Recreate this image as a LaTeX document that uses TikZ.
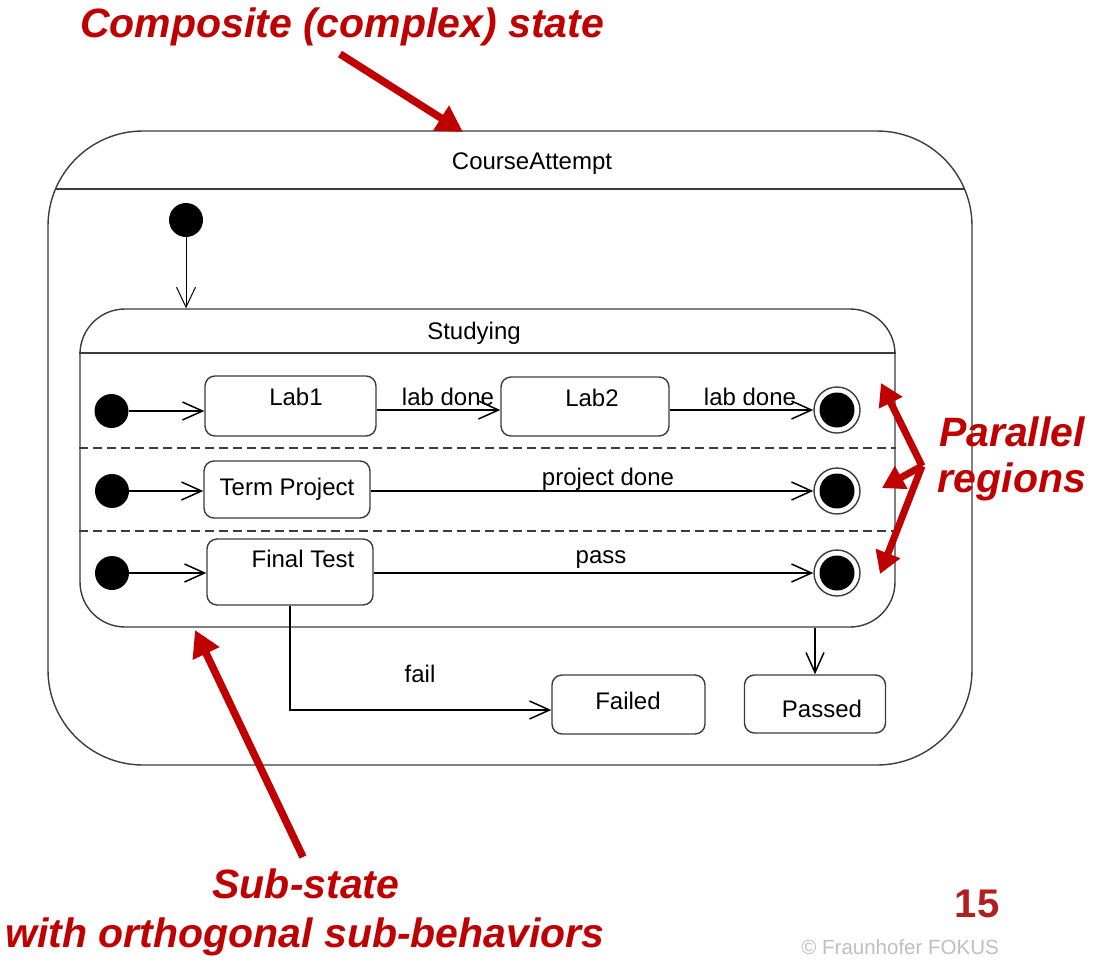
\documentclass[tikz,border=0pt]{standalone}
\usepackage{fontspec}
\setmainfont{Liberation Sans}
\newfontfamily\dgfont{Liberation Sans}
\usetikzlibrary{arrows.meta}
\definecolor{myred}{RGB}{192,0,0}
\definecolor{numred}{RGB}{176,32,32}
\definecolor{cpgray}{RGB}{190,190,190}
\definecolor{lngray}{RGB}{60,60,60}
\newcommand{\dgfnt}{\dgfont\fontsize{24}{28}\selectfont}
\newcommand{\annfnt}{\dgfont\bfseries\itshape\fontsize{41}{48}\selectfont}
\tikzset{
  stbox/.style={draw=lngray, line width=1.4pt, rounded corners=10pt, inner sep=0pt},
  txt/.style={font=\dgfnt, anchor=base, inner sep=0pt},
  tr/.style={line width=1.5pt, -{Straight Barb[length=20pt,width=18pt]}},
  trthin/.style={line width=1pt, -{Straight Barb[length=20pt,width=19pt]}},
  inidot/.style={circle, fill=black, minimum size=34pt, inner sep=0pt},
  findot/.style={circle, draw=lngray, line width=1.4pt, fill=white, minimum size=46pt, inner sep=0pt,
    path picture={\fill[black] (path picture bounding box.center) circle (17.5pt);}},
  annarrow/.style={draw=myred, line width=7.5pt, -{Triangle[length=26pt,width=28pt]}},
  annarrowsm/.style={draw=myred, line width=7pt, -{Triangle[length=22pt,width=25pt]}},
  anntxt/.style={font=\annfnt, text=myred, anchor=base, inner sep=0pt},
  regline/.style={draw=lngray, line width=1.6pt, dash pattern=on 9pt off 5pt}
}
\begin{document}
\begin{tikzpicture}[x=1pt,y=-1pt]
\useasboundingbox (0,0) rectangle (1093,975);

% outer composite state
\node[stbox, rounded corners=95pt, minimum width=924pt, minimum height=634pt] (ca) at (510,448) {};
\draw[draw=lngray, line width=1.4pt] (56,189) -- (964,189);
\node[txt] (caname) at (532,169) {CourseAttempt};

% inner composite state
\node[stbox, rounded corners=45pt, minimum width=815pt, minimum height=318pt] (st) at (487.5,468) {};
\draw[draw=lngray, line width=1.4pt] (st.west |- 0,353) -- (st.east |- 0,353);
\node[txt] (stname) at (474,339.5) {Studying};
\draw[regline] (st.west |- 0,448) -- (st.east |- 0,448);
\draw[regline] (st.west |- 0,531) -- (st.east |- 0,531);

% top initial
\node[inidot] (i0) at (186,220) {};
\draw[trthin] (i0) -- (i0 |- st.north);

% region 1
\node[inidot] (i1) at (111.5,411) {};
\node[stbox, minimum width=171pt, minimum height=60pt] (lab1) at (290.5,406) {};
\node[txt] (lab1t) at (296,405) {Lab1};
\node[stbox, minimum width=168pt, minimum height=59pt] (lab2) at (585,406.5) {};
\node[txt] (lab2t) at (592,406) {Lab2};
\node[findot] (f1) at (837,410) {};
\draw[tr] (i1) -- (lab1.west |- i1);
\draw[tr] (lab1.east |- f1) -- (lab2.west |- f1);
\draw[tr] (lab2.east |- f1) -- (f1);
\node[txt] (ld1) at (448,405) {lab done};
\node[txt] (ld2) at (750,405) {lab done};

% region 2
\node[inidot] (i2) at (112,491) {};
\node[stbox, minimum width=166pt, minimum height=57pt] (tp) at (287,489.5) {};
\node[txt] (tpt) at (287,495) {Term Project};
\node[findot] (f2) at (837,491) {};
\draw[tr] (i2) -- (tp.west |- i2);
\draw[tr] (tp.east |- f2) -- (f2);
\node[txt] (pd) at (608,485) {project done};

% region 3
\node[inidot] (i3) at (112,573) {};
\node[stbox, minimum width=166pt, minimum height=66pt] (ft) at (290,572) {};
\node[txt] (ftt) at (303,567) {Final Test};
\node[findot] (f3) at (837,573) {};
\draw[tr] (i3) -- (ft.west |- i3);
\draw[tr] (ft.east |- f3) -- (f3);
\node[txt] (ps) at (601,563) {pass};

% Failed / Passed
\node[stbox, minimum width=153pt, minimum height=59pt] (failed) at (628.5,704.5) {};
\node[txt] (failedt) at (628,709) {Failed};
\node[stbox, minimum width=141pt, minimum height=58pt] (passed) at (815,704) {};
\node[txt] (passedt) at (822,717) {Passed};
\coordinate (fy) at (0,710);
\draw[tr] (ft.south) |- (failed.west |- fy);
\node[txt] (fl) at (420,682) {fail};
\draw[tr] (passed.north |- st.south) -- (passed.north);

% annotations
\node[anntxt] (a1) at (342,37) {Composite (complex) state};
\coordinate (a1s) at (340,54);
\coordinate (a1e) at (463,132);
\draw[annarrow] (a1s) -- (a1e);

\node[anntxt] (a2) at (1012,446) {Parallel};
\node[anntxt] (a2b) at (1012,492) {regions};
\coordinate (hub) at (922,466);
\coordinate (p1) at (881,383);
\coordinate (p2) at (882,488);
\coordinate (p3) at (880,574);
\draw[annarrowsm] (hub) -- (p1);
\draw[annarrowsm] (hub) -- (p2);
\draw[annarrowsm] (hub) -- (p3);

\node[anntxt] (a3) at (306,898) {Sub-state};
\node[anntxt] (a3b) at (305,947) {with orthogonal sub-behaviors};
\coordinate (s1) at (303,857);
\coordinate (s2) at (195,630);
\draw[annarrow] (s1) -- (s2);

\node[font=\dgfont\bfseries\fontsize{40}{48}\selectfont, text=numred, anchor=base, inner sep=0pt] (num) at (977,917) {15};
\node[font=\dgfont\fontsize{20.5}{24}\selectfont, text=cpgray, anchor=base east, inner sep=0pt] (cp) at (999,954) {© Fraunhofer FOKUS};
\end{tikzpicture}
\end{document}
